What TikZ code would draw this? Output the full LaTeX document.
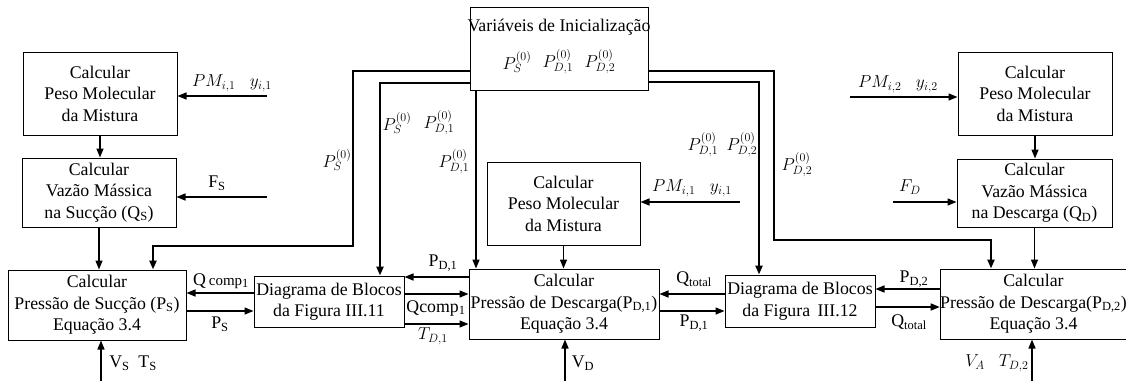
\documentclass[tikz,border=0pt]{standalone}
\usepackage{fontspec}
\setmainfont{Liberation Serif}
\usetikzlibrary{arrows.meta}
\begin{document}
\begin{tikzpicture}[x=1pt,y=-1pt,
		font=\fontsize{17.8}{21.5}\selectfont,
		bloco/.style={draw,line width=1pt,align=center,inner sep=0pt},
		seta/.style={line width=1.4pt,-{Triangle[length=9pt,width=7pt]}},
		barra/.style={line width=2.4pt,-{Triangle[length=9pt,width=7pt]}}]
		\useasboundingbox[fill=white] (0,0) rectangle (1126,381);
		% blocos
		\node[bloco,minimum width=154pt,minimum height=83pt] (pm1) at (100,93.5) {Calcular\\Peso Molecular\\da Mistura};
		\node[bloco,minimum width=154pt,minimum height=69pt] (vs) at (99,192.5) {Calcular\\Vazão Mássica\\na Sucção (Q\textsubscript{S})};
		\node[bloco,minimum width=178pt,minimum height=70pt] (ps) at (97,305) {Calcular\\Pressão de Sucção (P\textsubscript{S})\\Equação 3.4};
		\node[bloco,minimum width=150pt,minimum height=51pt] (db1) at (329,301.5) {Diagrama de Blocos\\da Figura III.11};
		\node[bloco,minimum width=190pt,minimum height=70pt] (pd1) at (564,304) {Calcular\\Pressão de Descarga(P\textsubscript{D,1})\\Equação 3.4};
		\node[bloco,minimum width=153pt,minimum height=83pt] (pm2) at (563.5,203.5) {Calcular\\Peso Molecular\\da Mistura};
		\node[bloco,minimum width=178pt,minimum height=83pt] (vi) at (559,48.5) {};
		\node[bloco,minimum width=150pt,minimum height=52pt] (db2) at (800,301) {Diagrama de Blocos\\da Figura\, III.12};
		\node[bloco,minimum width=183pt,minimum height=70pt] (pd2) at (1033.5,304) {Calcular\\Pressão de Descarga(P\textsubscript{D,2})\\Equação 3.4};
		\node[bloco,minimum width=154pt,minimum height=83pt] (pm3) at (1035,93.5) {Calcular\\Peso Molecular\\da Mistura};
		\node[bloco,minimum width=155pt,minimum height=68pt] (vd) at (1034.5,193) {Calcular\\Vazão Mássica\\na Descarga (Q\textsubscript{D})};
		\path
		(559,27) node (vitit) {Variáveis de Inicialização}
		(517,62) node (vi1) {$P_S^{(0)}$}
		(558,62) node (vi2) {$P_{D,1}^{(0)}$}
		(600,62) node (vi3) {$P_{D,2}^{(0)}$}
		;
		% entradas externas
		\coordinate (pm1in) at (267,96);
		\coordinate (vsin) at (267,197);
		\coordinate (psin) at (101,381);
		\coordinate (pd1in) at (565,381);
		\coordinate (pd2in) at (1032,381);
		\coordinate (pm2in) at (740,202);
		\coordinate (pm3in) at (850,97);
		\coordinate (vdin) at (893,202);
		\draw[seta] (pm1in) -- (pm1in -| pm1.east);
		\draw[seta] (vsin) -- (vsin -| vs.east);
		\draw[seta] (psin) -- (psin |- ps.south);
		\draw[seta] (pd1in) -- (pd1in |- pd1.south);
		\draw[seta] (pd2in) -- (pd2in |- pd2.south);
		\draw[seta] (pm2in) -- (pm2in -| pm2.east);
		\draw[seta] (pm3in) -- (pm3in -| pm3.west);
		\draw[seta] (vdin) -- (vdin -| vd.west);
		% entre blocos
		\draw[seta] (pm1.south) -- (pm1.south |- vs.north);
		\draw[seta] (vs.south) -- (vs.south |- ps.north);
		\draw[seta] (pm2.south) -- (pm2.south |- pd1.north);
		\draw[seta] (pm3.south) -- (pm3.south |- vd.north);
		\draw[seta] (vd.south) -- (vd.south |- pd2.north);
		\draw[seta] (db1.west |- 0,293) -- (ps.east |- 0,293);
		\draw[seta] (ps.east |- 0,311) -- (db1.west |- 0,311);
		\draw[seta] (pd1.west |- 0,277) -- (db1.east |- 0,277);
		\draw[seta] (db1.east |- 0,294) -- (pd1.west |- 0,294);
		\draw[seta] (db1.east |- 0,324) -- (pd1.west |- 0,324);
		\draw[seta] (db2.west |- 0,294) -- (pd1.east |- 0,294);
		\draw[seta] (pd1.east |- 0,311) -- (db2.west |- 0,311);
		\draw[seta] (pd2.west |- 0,289) -- (db2.east |- 0,289);
		\draw[seta] (db2.east |- 0,307) -- (pd2.west |- 0,307);
		% variaveis de inicializacao
		\coordinate (c1) at (353,246);
		\coordinate (c5) at (774,240);
		\draw[barra] (vi.west |- 0,71) -| (c1) -| ([xshift=56pt]ps.north);
		\draw[barra] (vi.west |- 0,83) -| ([xshift=51pt]db1.north);
		\draw[seta] ([xshift=-83pt]vi.south) -- ([xshift=-83pt]vi.south |- pd1.north);
		\draw[barra] (vi.east |- 0,82) -| ([xshift=-41pt]db2.north);
		\draw[barra] (vi.east |- 0,71) -| (c5) -| ([xshift=-42.5pt]pd2.north);
		% rotulos
		\path
		(232,83) node (l1) {$PM_{i,1}\;\;\; y_{i,1}$}
		(217,183) node (l2) {F\textsubscript{S}}
		(221,281) node (l3) {Q\,{\fontsize{15}{15}\selectfont comp}\textsubscript{1}}
		(220,324) node (l4) {P\textsubscript{S}}
		(133,363) node (l5) {V\textsubscript{S}\enspace T\textsubscript{S}}
		(337,160) node (l6) {$P_S^{(0)}$}
		(397,123) node (l7) {$P_S^{(0)}$}
		(439,123) node (l8) {$P_{D,1}^{(0)}$}
		(454,162) node (l9) {$P_{D,1}^{(0)}$}
		(443,263) node (l10) {P\textsubscript{D,1}}
		(436,308) node (l11) {Qcomp\textsubscript{1}}
		(433,336) node (l12) {$T_{D,1}$}
		(583,363) node (l13) {V\textsubscript{D}}
		(692,188) node (l14) {$PM_{i,1}\;\;\; y_{i,1}$}
		(694,279) node (l15) {Q\textsubscript{total}}
		(694,323) node (l16) {P\textsubscript{D,1}}
		(703,145) node (l17) {$P_{D,1}^{(0)}$}
		(742,145) node (l18) {$P_{D,2}^{(0)}$}
		(797,165) node (l19) {$P_{D,2}^{(0)}$}
		(898,84) node (l20) {$PM_{i,2}\;\;\; y_{i,2}$}
		(910,187) node (l21) {$F_D$}
		(914,279) node (l22) {P\textsubscript{D,2}}
		(909,322) node (l23) {Q\textsubscript{total}}
		(997,363) node (l24) {$V_A\;\;\; T_{D,2}$}
		;
	\end{tikzpicture}
\end{document}
